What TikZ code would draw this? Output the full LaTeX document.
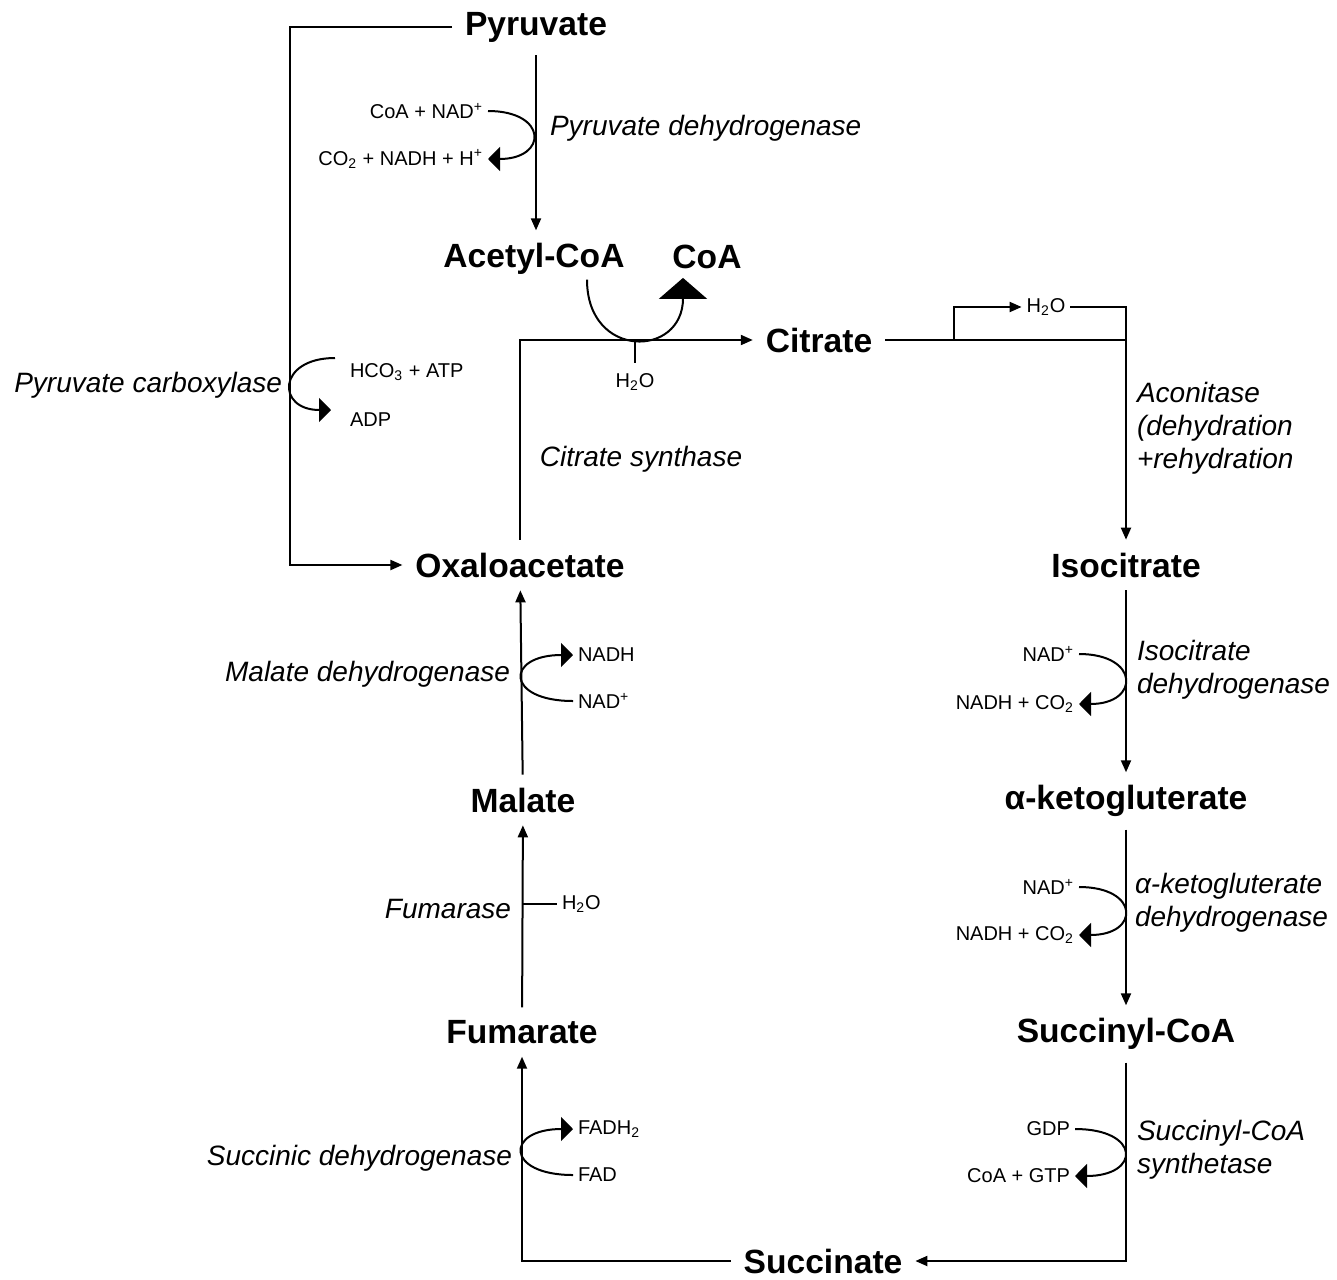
\documentclass[tikz,border=0pt]{standalone}
\usepackage{fontspec}
\setmainfont{Liberation Sans}
\usetikzlibrary{arrows.meta,calc}
\tikzset{
  metab/.style={font=\bfseries\fontsize{16.8}{20}\selectfont, inner sep=6pt},
  enz/.style={font=\itshape\fontsize{14}{16.5}\selectfont, inner sep=1pt, align=left},
  cof/.style={font=\fontsize{10}{12}\selectfont, inner sep=2pt},
  main/.style={-{Triangle[length=6pt,width=5pt]}},
  curl/.style={-{Triangle[length=6pt,width=12pt]}},
  coatip/.style={-{Triangle[length=10.5pt,width=24pt]}}
}
\begin{document}
\begin{tikzpicture}[x=0.5pt,y=-0.5pt,line width=1pt]
\useasboundingbox (0,0) rectangle (1337,1279);
% metabolites
\node[metab] (pyr) at (536,27) {Pyruvate};
\node[metab] (acoa) at (534,259) {Acetyl-CoA};
\node[metab] (coa) at (707,257) {CoA};
\node[metab] (cit) at (819,340) {Citrate};
\node[metab] (oaa) at (520,565) {Oxaloacetate};
\node[metab] (icit) at (1126,565) {Isocitrate};
\node[metab] (mal) at (523,800) {Malate};
\node[metab] (akg) at (1126,801) {α-ketogluterate};
\node[metab] (fum) at (522,1032) {Fumarate};
\node[metab] (scoa) at (1126,1034) {Succinyl-CoA};
\node[metab] (succ) at (823,1261) {Succinate};

% enzymes
\node[enz, anchor=west] (pdh) at (547,128) {Pyruvate dehydrogenase};
\node[enz, anchor=east] (pc) at (285,385) {Pyruvate carboxylase};
\node[enz] (cs) at (641,459) {Citrate synthase};
\node[enz, anchor=west] (aco) at (1134,428) {Aconitase\\(dehydration\\+rehydration};
\node[enz, anchor=west] (idh) at (1134,670) {Isocitrate\\dehydrogenase};
\node[enz, anchor=west] (akgdh) at (1132,903) {α-ketogluterate\\dehydrogenase};
\node[enz, anchor=west] (scs) at (1134,1150) {Succinyl-CoA\\synthetase};
\node[enz, anchor=east] (mdh) at (513,674) {Malate dehydrogenase};
\node[enz, anchor=east] (fumase) at (514,909) {Fumarase};
\node[enz, anchor=east] (sdh) at (515,1158) {Succinic dehydrogenase};

% cofactors
\node[cof, anchor=east] (cna) at (488,111) {CoA + NAD\textsuperscript{+}};
\node[cof, anchor=east] (cnh) at (488,159) {CO\textsubscript{2} + NADH + H\textsuperscript{+}};
\node[cof, anchor=west] (hco) at (345,372) {HCO\textsubscript{3} + ATP};
\node[cof, anchor=west] (adp) at (345,420) {ADP};
\node[cof] (csw) at (635,382) {H\textsubscript{2}O};
\node[cof] (acow) at (1046,307) {H\textsubscript{2}O};
\node[cof, anchor=east] (idhin) at (1079,654) {NAD\textsuperscript{+}};
\node[cof, anchor=east] (idhout) at (1079,704) {NADH + CO\textsubscript{2}};
\node[cof, anchor=east] (akgin) at (1079,887) {NAD\textsuperscript{+}};
\node[cof, anchor=east] (akgout) at (1079,935) {NADH + CO\textsubscript{2}};
\node[cof, anchor=east] (scsin) at (1075,1129) {GDP};
\node[cof, anchor=east] (scsout) at (1075,1176) {CoA + GTP};
\node[cof, anchor=west] (mdhout) at (573,655) {NADH};
\node[cof, anchor=west] (mdhin) at (573,701) {NAD\textsuperscript{+}};
\node[cof, anchor=west] (fumw) at (557,904) {H\textsubscript{2}O};
\node[cof, anchor=west] (sdhout) at (573,1129) {FADH\textsubscript{2}};
\node[cof, anchor=west] (sdhin) at (573,1175) {FAD};

\coordinate (csj) at (635,340);
\coordinate (csstub) at (635,363);
\coordinate (acol) at (954,340);
\coordinate (acoj) at (1126,340);
\coordinate (fumj) at (522,904);

% main steps
\draw[main] (pyr.south) -- (pyr.south |- acoa.north);
\draw[main] (pyr.west) -- ++(-162,0) |- (oaa.west);
\draw[main] (oaa.north) |- (cit.west);
\draw (cit.east) -- (acoj);
\draw[main] (acoj) -- (icit.north);
\draw[main] (acol) |- (acow.west);
\draw (acow.east) -| (acoj);
\draw[main] (icit) -- (akg);
\draw[main] (akg) -- (scoa);
\draw[main] (scoa.south) |- (succ.east);
\draw[main] (succ.west) -| (fum.south);
\draw[main] (fum) -- (mal);
\draw (fumj) -- (fumw.west);
\draw[main] (mal) -- (oaa);
\draw (csj) -- (csstub);

% side reactions
\draw[coatip] ($(acoa.south)+(53,-8)$) .. controls +(0,80) and +(0,80) .. ($(coa.south)+(-24,-4)$);
\draw[curl] (cna.east) .. controls +(60,0) and +(60,0) .. (cnh.east);
\draw[curl] ($(hco.west)+(-10,-14)$) .. controls +(-58,0) and +(-55,0) .. ($(adp.west)+(-14,-10)$);
\draw[curl] (idhin.east) .. controls +(61,0) and +(61,0) .. (idhout.east);
\draw[curl] (akgin.east) .. controls +(61,0) and +(61,0) .. (akgout.east);
\draw[curl] (scsin.east) .. controls +(66,0) and +(66,0) .. (scsout.east);
\draw[curl] (mdhin.west) .. controls +(-68,0) and +(-68,0) .. (mdhout.west);
\draw[curl] (sdhin.west) .. controls +(-68,0) and +(-68,0) .. (sdhout.west);

\end{tikzpicture}
\end{document}
